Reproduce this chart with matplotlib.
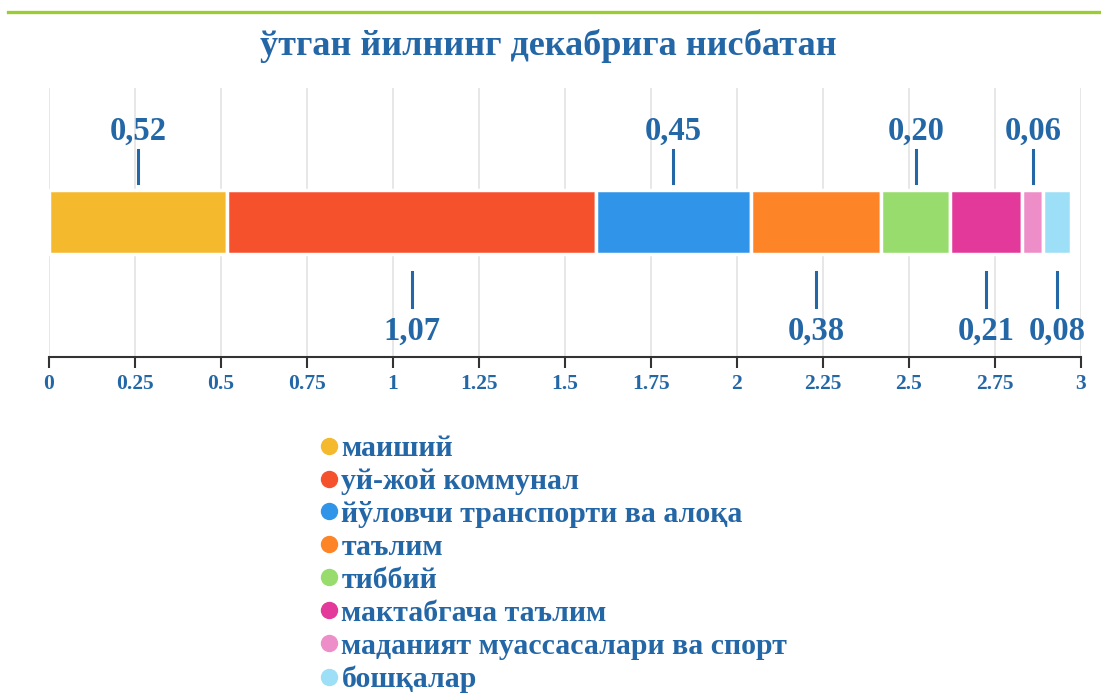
""" Stacked horizontal bar: structure vs last December. """

import matplotlib
matplotlib.use('Agg')
from matplotlib import pyplot as plt
from matplotlib.lines import Line2D
from matplotlib.ticker import FuncFormatter, MultipleLocator

# Data
categories = ['маиший', 'уй-жой коммунал', 'йўловчи транспорти ва алоқа',
              'таълим', 'тиббий', 'мактабгача таълим',
              'маданият муассасалари ва спорт', 'бошқалар']
values = [0.52, 1.07, 0.45, 0.38, 0.20, 0.21, 0.06, 0.08]
value_labels = ['0,52', '1,07', '0,45', '0,38', '0,20', '0,21', '0,06', '0,08']
title = 'ўтган йилнинг декабрига нисбатан'

colors = ['#f5b92e', '#f6512d', '#3095e9', '#fd8427', '#97dc6d',
          '#e3399a', '#ee8ec8', '#9ddff6']
txt_col = '#2467a7'

plt.rcParams['font.family'] = ['Liberation Serif', 'DejaVu Serif']
plt.rcParams['font.weight'] = 'bold'

fig = plt.figure(figsize=(11.01, 6.93), dpi=100)
W, H = 1101., 693.

# Green rule at the top
fig.add_artist(Line2D([8/W, 1.], [1-11.5/H, 1-11.5/H], color='#9bcc35',
                      lw=2.4, transform=fig.transFigure))

fig.text(548/W, 1-46/H, title, ha='center', va='center',
         fontsize=26, color=txt_col, fontweight='bold')

# Main axes (y in pixel-like units above the axis line)
ax = fig.add_axes([48.5/W, (H-357)/H, 1032.5/W, (357-88)/H])
ax.set_xlim(0, 3)
ax.set_ylim(0, 269)

left = 0.
for ii, (val, col, lbl) in enumerate(zip(values, colors, value_labels)):
    ax.barh(135, val, left=left, height=64, color=col,
            edgecolor='white', linewidth=2.5, zorder=3)
    xc = left + val/2
    if ii % 2 == 0:
        ax.plot([xc, xc], [174, 207], color=txt_col, lw=2.2, zorder=4)
        ax.text(xc, 217, lbl, ha='center', va='baseline', fontsize=23.5,
                color=txt_col, fontweight='bold')
    else:
        ax.plot([xc, xc], [50, 85], color=txt_col, lw=2.2, zorder=4)
        ax.text(xc, 17, lbl, ha='center', va='baseline', fontsize=23.5,
                color=txt_col, fontweight='bold')
    left += val

# Grid / axis
ax.xaxis.set_major_locator(MultipleLocator(0.25))
ax.xaxis.set_major_formatter(FuncFormatter(lambda x, p: f'{x:g}'))
ax.grid(axis='x', color='#e3e3e3', lw=1.2, zorder=0)
ax.set_axisbelow(True)
ax.set_yticks([])
for side in ['top', 'right', 'left']:
    ax.spines[side].set_visible(False)
ax.spines['bottom'].set_color('#333333')
ax.spines['bottom'].set_linewidth(1.5)
ax.tick_params(axis='x', direction='out', length=8, width=1.5,
               color='#333333', labelcolor=txt_col, labelsize=15.5, pad=4)
for tl in ax.get_xticklabels():
    tl.set_fontweight('bold')

# Legend
handles = [Line2D([], [], marker='o', linestyle='', markersize=11.5,
                  markerfacecolor=c, markeredgecolor=c) for c in colors]
leg = fig.legend(handles, categories, loc='upper left',
                 bbox_to_anchor=(316/W, 1-435/H), frameon=False,
                 prop={'family': 'Liberation Serif', 'weight': 'bold',
                       'size': 21.5},
                 labelcolor=txt_col, handletextpad=0.0, handlelength=0.85,
                 labelspacing=0.2, borderaxespad=0., borderpad=0.)

plt.savefig('out.png', dpi=100)
